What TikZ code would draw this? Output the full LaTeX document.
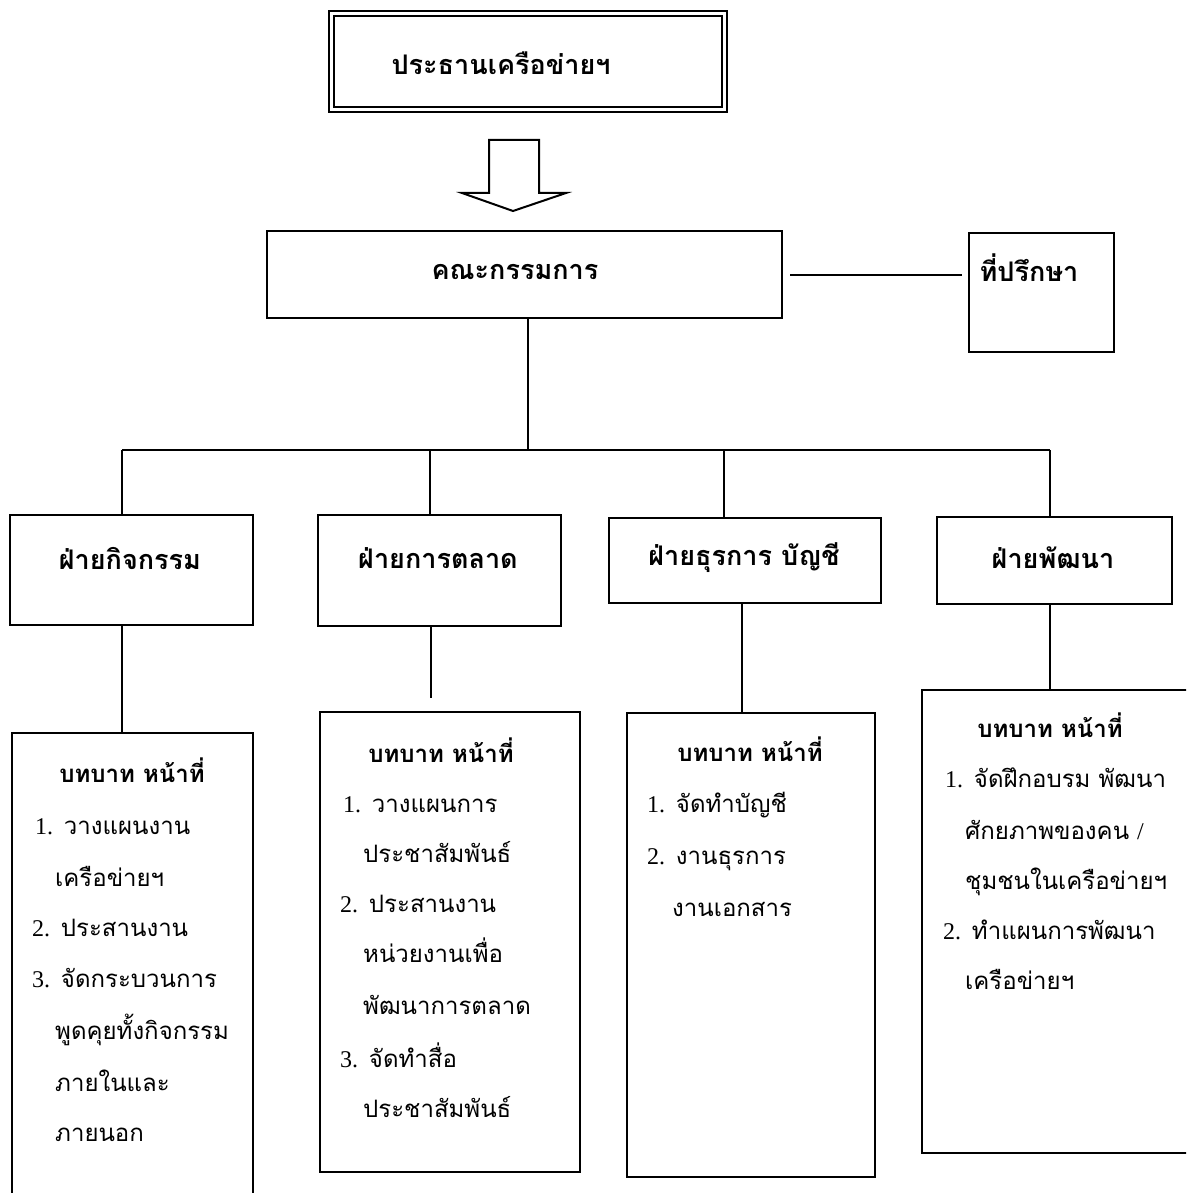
\documentclass[tikz,border=0pt]{standalone}
\usepackage{fontspec}
\setmainfont[Script=Thai]{Loma}
\newfontfamily\latn{Liberation Serif}
\newcommand\nb[1]{{\latn #1}}
\tikzset{
  box/.style={draw, line width=2pt, inner sep=0pt, outer sep=0pt, anchor=north west},
  conn/.style={line width=2pt},
  headtxt/.style={font=\fontsize{27}{30}\selectfont\bfseries, inner sep=0pt},
  roletitle/.style={font=\fontsize{24}{28}\selectfont\bfseries, inner sep=0pt, anchor=base},
  bodytxt/.style={font=\fontsize{24}{28}\selectfont, inner sep=0pt, anchor=base west},
}
\begin{document}
\begin{tikzpicture}[x=1pt,y=-1pt]
\useasboundingbox (0,0) rectangle (1186,1193);
\clip (0,0) rectangle (1186,1193);
\fill[white] (0,0) rectangle (1186,1193);

% president
\node[box, double, double distance=3pt, minimum width=393pt, minimum height=96pt] (pres) at (331,13.5) {};
\node[headtxt] (prest) at (501,63) {ประธานเครือข่ายฯ};

% block arrow
\draw[line width=2pt, line join=miter] (489,140) -- (539,140) -- (539,193) -- (566,193) -- (513,211) -- (462,193) -- (489,193) -- cycle;

% committee and advisor
\node[box, minimum width=515pt, minimum height=87pt] (com) at (267,231) {};
\node[headtxt] (comt) at (515,272) {คณะกรรมการ};
\node[box, minimum width=145pt, minimum height=119pt] (adv) at (969,233) {};
\node[headtxt] (advt) at (1029,268) {ที่ปรึกษา};
\draw[conn, shorten <=8pt, shorten >=7pt] (com.east) -- (com.east -| adv.west);

% bus
\coordinate (bc) at (528,450);
\coordinate (b1) at (122,450);
\coordinate (b2) at (430,450);
\coordinate (b3) at (724,450);
\coordinate (b4) at (1050,450);
\coordinate (k3) at (742,450);
\draw[conn] (com.south -| bc) -- (bc);
\draw[conn] (b1) -- (b4);

% departments
\node[box, minimum width=243pt, minimum height=110pt] (d1) at (10,515) {};
\node[box, minimum width=243pt, minimum height=111pt] (d2) at (318,515) {};
\node[box, minimum width=272pt, minimum height=85pt] (d3) at (609,518) {};
\node[box, minimum width=235pt, minimum height=87pt] (d4) at (937,517) {};
\node[headtxt] (d1t) at (130,558) {ฝ่ายกิจกรรม};
\node[headtxt] (d2t) at (438,558) {ฝ่ายการตลาด};
\node[headtxt] (d3t) at (744,558) {ฝ่ายธุรการ บัญชี};
\node[headtxt] (d4t) at (1053,558) {ฝ่ายพัฒนา};
\draw[conn] (b1) -- (b1 |- d1.north);
\draw[conn] (b2) -- (b2 |- d2.north);
\draw[conn] (b3) -- (b3 |- d3.north);
\draw[conn] (b4) -- (b4 |- d4.north);

% role boxes
\node[box, minimum width=241pt, minimum height=480pt] (r1) at (12,733) {};
\node[box, minimum width=260pt, minimum height=460pt] (r2) at (320,712) {};
\node[box, minimum width=248pt, minimum height=464pt] (r3) at (627,713) {};
\node[box, minimum width=280pt, minimum height=463pt] (r4) at (922,690) {};
\coordinate (e2) at (431,698);
\draw[conn] (d1.south -| b1) -- (r1.north -| b1);
\draw[conn] (d2.south -| e2) -- (e2);
\draw[conn] (d3.south -| k3) -- (r3.north -| k3);
\draw[conn] (d4.south -| b4) -- (r4.north -| b4);

% role texts 1
\node[roletitle] (r1t) at (132,782) {บทบาท หน้าที่};
\node[bodytxt] (r1a) at (35,834) {\nb{1.} วางแผนงาน};
\node[bodytxt] (r1b) at (55,886) {เครือข่ายฯ};
\node[bodytxt] (r1c) at (32,936) {\nb{2.} ประสานงาน};
\node[bodytxt] (r1d) at (32,987) {\nb{3.} จัดกระบวนการ};
\node[bodytxt] (r1e) at (55,1039) {พูดคุยทั้งกิจกรรม};
\node[bodytxt] (r1f) at (55,1091) {ภายในและ};
\node[bodytxt] (r1g) at (55,1141) {ภายนอก};

% role texts 2
\node[roletitle] (r2t) at (441,762) {บทบาท หน้าที่};
\node[bodytxt] (r2a) at (343,812) {\nb{1.} วางแผนการ};
\node[bodytxt] (r2b) at (363,862) {ประชาสัมพันธ์};
\node[bodytxt] (r2c) at (340,912) {\nb{2.} ประสานงาน};
\node[bodytxt] (r2d) at (363,962) {หน่วยงานเพื่อ};
\node[bodytxt] (r2e) at (363,1014) {พัฒนาการตลาด};
\node[bodytxt] (r2f) at (340,1067) {\nb{3.} จัดทำสื่อ};
\node[bodytxt] (r2g) at (363,1117) {ประชาสัมพันธ์};

% role texts 3
\node[roletitle] (r3t) at (750,761) {บทบาท หน้าที่};
\node[bodytxt] (r3a) at (647,812) {\nb{1.} จัดทำบัญชี};
\node[bodytxt] (r3b) at (647,864) {\nb{2.} งานธุรการ};
\node[bodytxt] (r3c) at (672,916) {งานเอกสาร};

% role texts 4
\node[roletitle] (r4t) at (1050,737) {บทบาท หน้าที่};
\node[bodytxt] (r4a) at (945,787) {\nb{1.} จัดฝึกอบรม พัฒนา};
\node[bodytxt] (r4b) at (965,839) {ศักยภาพของคน \nb{/}};
\node[bodytxt] (r4c) at (965,889) {ชุมชนในเครือข่ายฯ};
\node[bodytxt] (r4d) at (943,939) {\nb{2.} ทำแผนการพัฒนา};
\node[bodytxt] (r4e) at (965,989) {เครือข่ายฯ};
\end{tikzpicture}
\end{document}
